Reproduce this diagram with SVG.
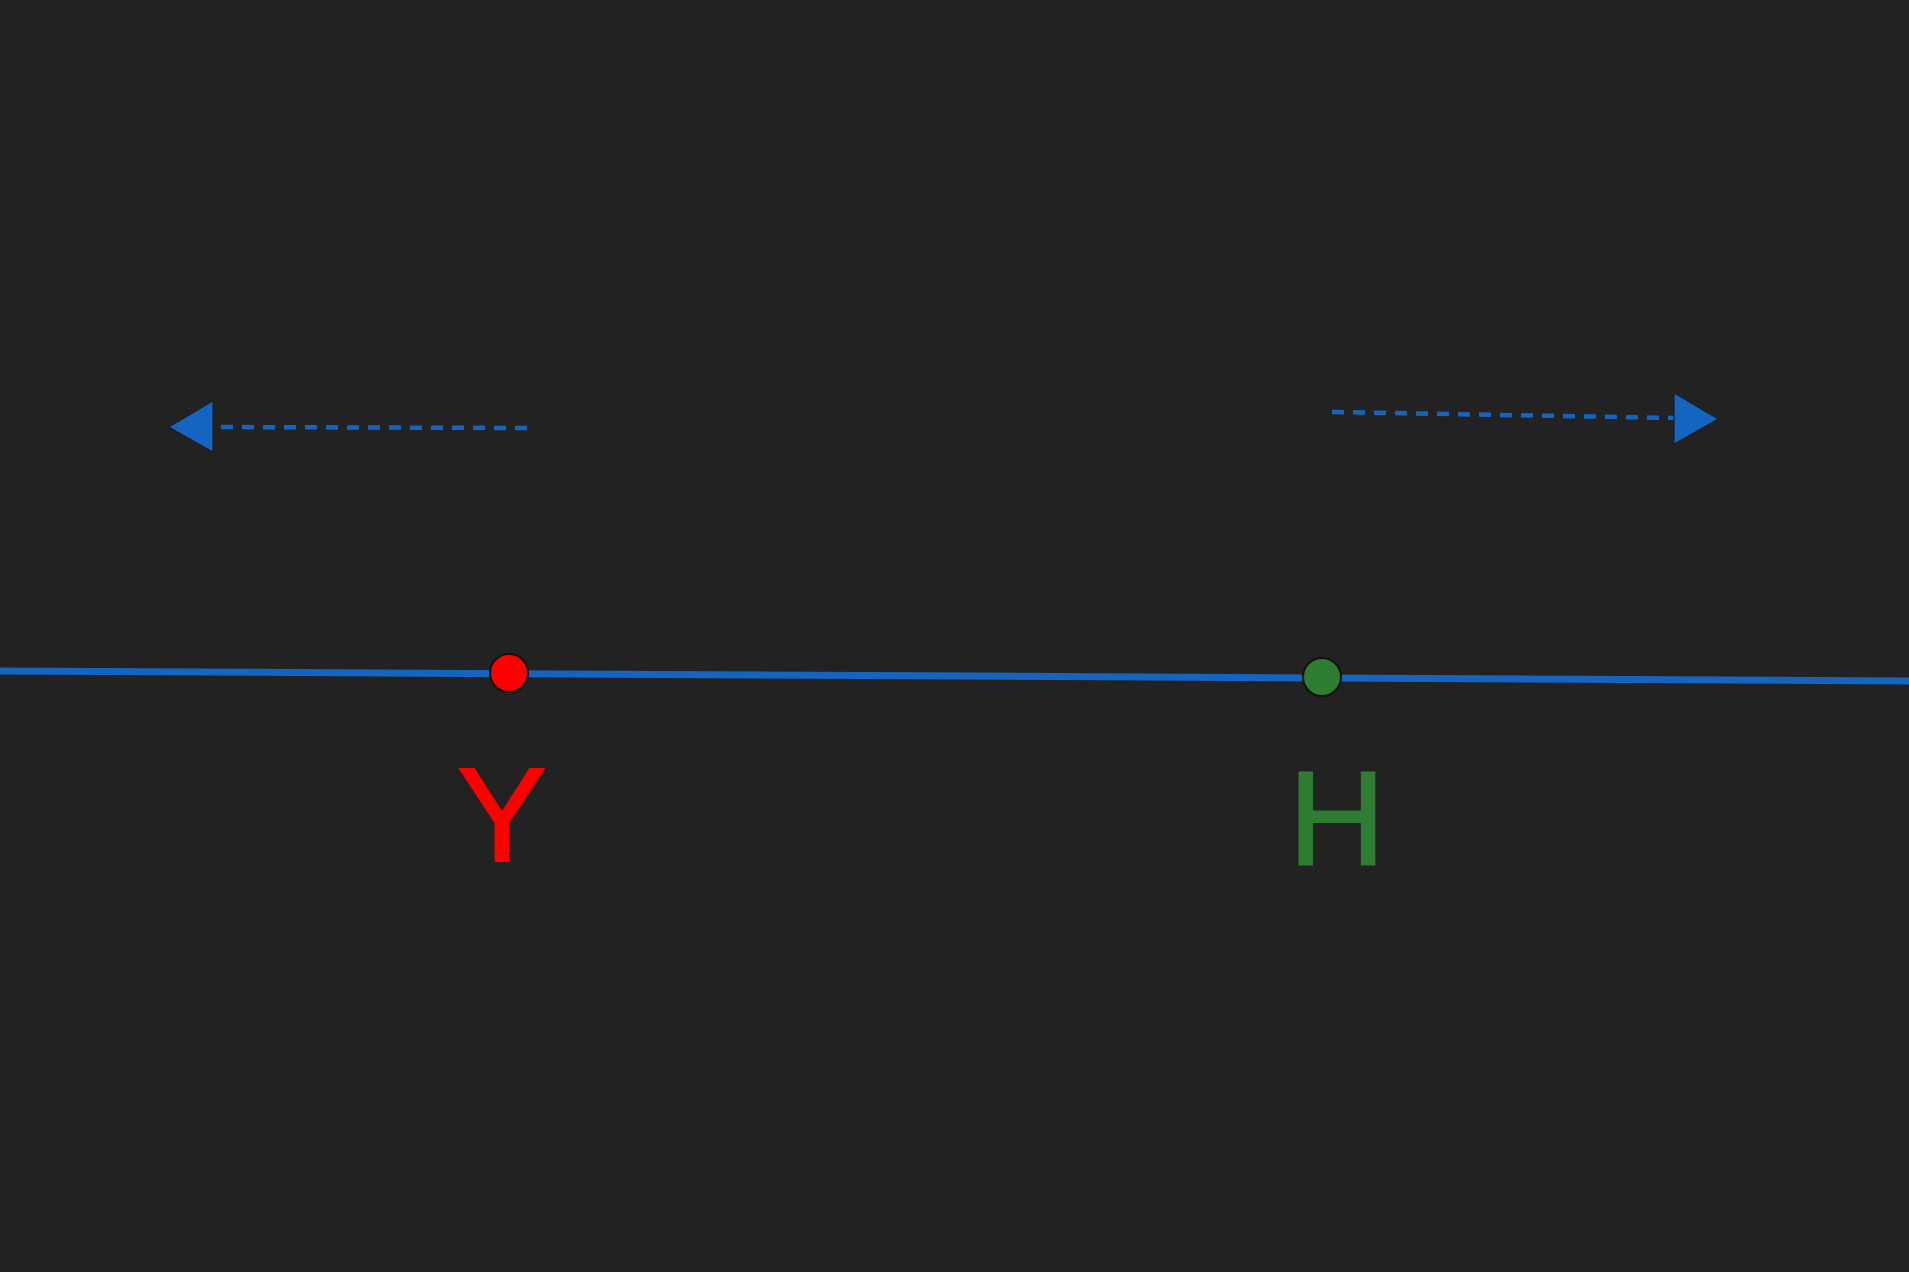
<svg xmlns="http://www.w3.org/2000/svg" width="1909" height="1272" viewBox="0 0 1909 1272">
<defs>
<style>
.dash{stroke:#1565c0;stroke-width:4.5;stroke-dasharray:12 9;fill:none}
.head{fill:#1565c0;stroke:#1a1a1a;stroke-width:1}
.lbl{font-family:"Liberation Sans",Arial,sans-serif;font-size:134px;text-anchor:middle;stroke-width:2}
</style>
</defs>
<rect width="1909" height="1272" fill="#222222"/>
<g id="connectors">
<line x1="0" y1="671" x2="1909" y2="681" stroke="#1565c0" stroke-width="7"/>
<g id="arrow-left">
<line class="dash" x1="527" y1="428" x2="210" y2="427"/>
<polygon class="head" points="169,427 213,401 213,452"/>
</g>
<g id="arrow-right">
<line class="dash" x1="1332" y1="412" x2="1676" y2="418"/>
<polygon class="head" points="1718,419 1674,393 1674,444"/>
</g>
</g>
<g id="node-Y">
<circle cx="509" cy="673" r="19" fill="#ff0000" stroke="#111" stroke-width="2"/>
<text class="lbl" x="502" y="861" fill="#ff0000" stroke="#ff0000">Y</text>
</g>
<g id="node-H">
<circle cx="1322" cy="677" r="19" fill="#2e7d32" stroke="#111" stroke-width="2"/>
<text class="lbl" x="1337" y="865" fill="#2e7d32" stroke="#2e7d32">H</text>
</g>
</svg>
